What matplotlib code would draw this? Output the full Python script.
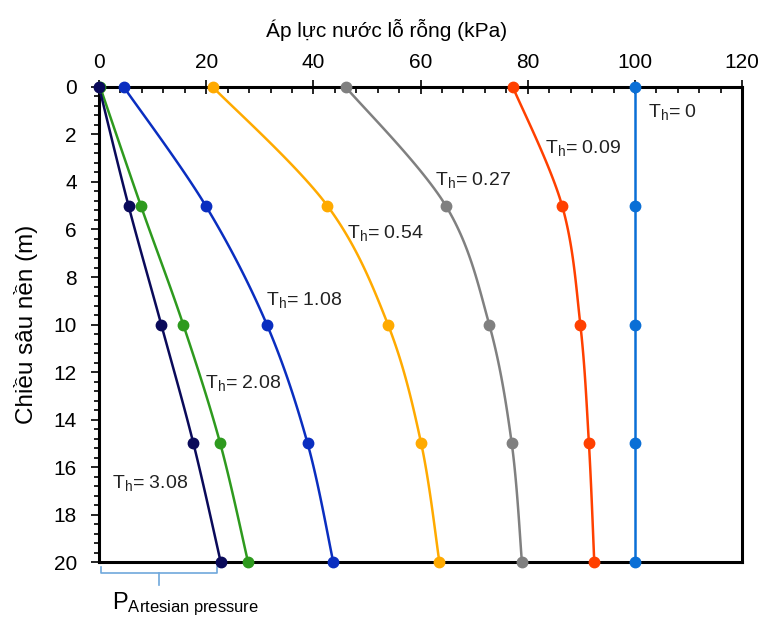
import numpy as np
import matplotlib
matplotlib.use("Agg")
import matplotlib.pyplot as plt
from matplotlib.ticker import MultipleLocator

plt.rcParams['font.family'] = ['Liberation Sans', 'DejaVu Sans']
plt.rcParams['mathtext.fontset'] = 'custom'
plt.rcParams['mathtext.rm'] = 'Liberation Sans'
plt.rcParams['mathtext.it'] = 'Liberation Sans:italic'

# depth (m) of the computed points
depth = [0, 5, 10, 15, 20]

# pore pressure (kPa) per time factor Th
th_labels = ['0', '0.09', '0.27', '0.54', '1.08', '2.08', '3.08']
u_th0 = [100, 100, 100, 100, 100]
u_th009 = [77.2, 86.4, 89.8, 91.4, 92.4]
u_th027 = [46.0, 64.7, 72.8, 77.0, 78.9]
u_th054 = [21.2, 42.6, 53.9, 60.1, 63.5]
u_th108 = [4.6, 19.9, 31.3, 38.9, 43.7]
u_th208 = [0.2, 7.8, 15.7, 22.6, 27.8]
u_th308 = [0.0, 5.5, 11.6, 17.6, 22.7]

series = [u_th0, u_th009, u_th027, u_th054, u_th108, u_th208, u_th308]
colors = ['#0a6fd6', '#ff4000', '#808080', '#ffaa00', '#0a2ec0', '#2e9a1e', '#0a0a5a']

# where the Th labels sit (x kPa, y m)
label_x = [102.4, 83.3, 62.6, 46.2, 31.2, 19.8, 2.5]
label_y = [1.25, 2.8, 4.13, 6.37, 9.18, 12.69, 16.9]


def smooth(xs, ys, n=30):
    # catmull-rom, like excel's smoothed line
    px = np.array(xs, float)
    py = np.array(ys, float)
    px = np.concatenate([[px[0]], px, [px[-1]]])
    py = np.concatenate([[py[0]], py, [py[-1]]])
    outx, outy = [], []
    for i in range(1, len(px) - 2):
        t = np.linspace(0, 1, n)
        for p, out in ((px, outx), (py, outy)):
            p0, p1, p2, p3 = p[i - 1], p[i], p[i + 1], p[i + 2]
            out.extend(0.5 * ((2 * p1) + (-p0 + p2) * t
                              + (2 * p0 - 5 * p1 + 4 * p2 - p3) * t ** 2
                              + (-p0 + 3 * p1 - 3 * p2 + p3) * t ** 3))
    return outx, outy


fig = plt.figure(figsize=(7.62, 6.19), dpi=100)
ax = fig.add_axes([0.130, 0.092, 0.844, 0.7675])

for u, c in zip(series, colors):
    sx, sy = smooth(u, depth)
    ax.plot(sx, sy, color=c, lw=1.8, zorder=3)
    ax.plot(u, depth, 'o', color=c, ms=7.5, zorder=4, clip_on=False)

for lab, lx, ly in zip(th_labels, label_x, label_y):
    ax.text(lx, ly, 'T$_{\\mathrm{h}}$= ' + lab, fontsize=14, va='baseline', ha='left',
            color='#222222', zorder=5)

ax.set_xlim(0, 120)
ax.set_ylim(20, 0)
ax.xaxis.tick_top()
ax.xaxis.set_label_position('top')
ax.xaxis.set_major_locator(MultipleLocator(20))
ax.xaxis.set_minor_locator(MultipleLocator(4))
ax.yaxis.set_major_locator(MultipleLocator(2))
ax.yaxis.set_minor_locator(MultipleLocator(0.4))
ax.tick_params(axis='x', which='major', direction='inout', length=10, width=1.2, labelsize=15, pad=6)
ax.tick_params(axis='x', which='minor', direction='in', length=4, width=1.2)
ax.tick_params(axis='y', which='major', direction='out', length=6, width=1.2, labelsize=15, pad=10)
ax.tick_params(axis='y', which='minor', direction='out', length=3.5, width=1.2)
for s in ax.spines.values():
    s.set_linewidth(2.2)
    s.set_color('black')

ax.set_xlabel('Áp lực nước lỗ rỗng (kPa)', fontsize=15)
ax.xaxis.set_label_coords(0.447, 1.105)
ax.set_ylabel('Chiều sâu nền (m)', fontsize=17.5)
ax.yaxis.set_label_coords(-0.114, 0.5)
ax.yaxis.label.set_va('center')

# bracket for artesian pressure below the axis
bx0, bx1 = 0.4, u_th308[-1] - 0.7
bxm = (bx0 + bx1) / 2
ax.plot([bx0, bx0, bx1, bx1], [20.2, 20.46, 20.46, 20.2], color='#6fa8dc', lw=1.2, clip_on=False)
ax.plot([bxm, bxm], [20.46, 20.97], color='#6fa8dc', lw=1.2, clip_on=False)
ax.text(2.4, 22.0, 'P$_{\\mathrm{Artesian\\ pressure}}$', fontsize=17, ha='left', va='baseline')

fig.savefig('out.png', dpi=100)
